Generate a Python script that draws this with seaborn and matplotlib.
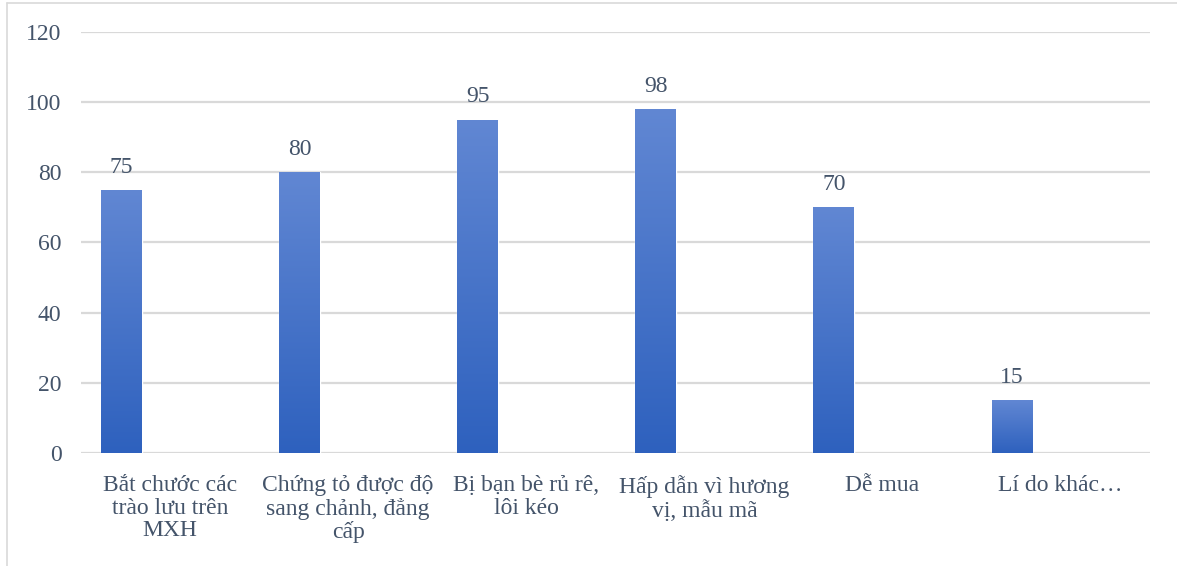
import numpy as np
import pandas as pd
import seaborn as sns
import matplotlib.pyplot as plt
from matplotlib.colors import LinearSegmentedColormap
from matplotlib.lines import Line2D

categories = ["Bắt chước các\ntrào lưu trên\nMXH",
              "Chứng tỏ được độ\nsang chảnh, đẳng\ncấp",
              "Bị bạn bè rủ rê,\nlôi kéo",
              "Hấp dẫn vì hương\nvị, mẫu mã",
              "Dễ mua",
              "Lí do khác…"]
values = [75, 80, 95, 98, 70, 15]
yticks = [0, 20, 40, 60, 80, 100, 120]

df = pd.DataFrame({"cat": categories, "val": values})

sns.set_style("white")
plt.rcParams['font.family'] = ['Liberation Serif', 'DejaVu Serif']
txt = "#44546a"
grid = "#d9d9d9"

fig = plt.figure(figsize=(11.77, 5.66), dpi=100)
ax = fig.add_axes([0.0688, 0.2, 0.908, 0.7435])

sns.barplot(data=df, x="cat", y="val", width=0.23, color="#4a75cb", ax=ax,
            saturation=1, zorder=3)

# bars sit left of category centre, gradient fill per bar
cmap = LinearSegmentedColormap.from_list("g", ["#2e61be", "#6187d3"])
grad = np.linspace(0, 1, 256).reshape(-1, 1)
for p in ax.patches:
    p.set_x(p.get_x() - 0.273)
    x0, w, h = p.get_x(), p.get_width(), p.get_height()
    im = ax.imshow(grad, cmap=cmap, origin="lower", aspect="auto",
                   extent=[x0, x0 + w, 0, h], zorder=4)
    im.set_clip_path(p)
    ax.text(x0 + w / 2, h + 3.5, f"{int(h)}", ha="center", va="bottom",
            fontsize=17, color=txt, zorder=5)

ax.set_xlim(-0.5, len(categories) - 0.5)
ax.set_ylim(0, 120)
ax.set_yticks(yticks)
ax.set_yticklabels([str(t) for t in yticks], fontsize=17, color=txt)
ax.set_xticks(range(len(categories)))
ax.set_xticklabels(categories, fontsize=17, color=txt, linespacing=1.1, va="top")
ax.tick_params(axis="y", length=0, pad=14)
ax.tick_params(axis="x", length=0, pad=16)
ax.set_xlabel("")
ax.set_ylabel("")
for y in yticks:
    ax.axhline(y, color=grid, lw=1.6, zorder=1)
for s in ax.spines.values():
    s.set_visible(False)

# outer chart border (partially cropped)
fig.add_artist(Line2D([7 / 1177, 1], [1 - 3 / 566, 1 - 3 / 566], color=grid, lw=1.2))
fig.add_artist(Line2D([7 / 1177, 7 / 1177], [0, 1 - 3 / 566], color=grid, lw=1.2))

fig.savefig("out.png", dpi=100)
